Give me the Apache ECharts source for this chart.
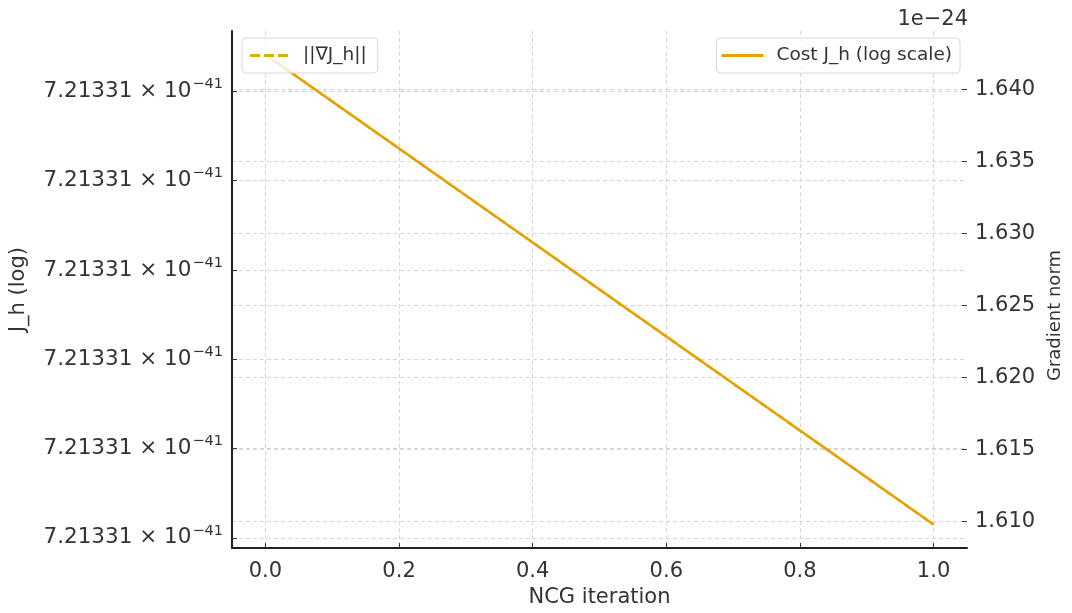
<!DOCTYPE html>
<html><head><meta charset="utf-8">
<script src="https://cdn.jsdelivr.net/npm/echarts@6/dist/echarts.min.js"></script>
<style>html,body{margin:0;padding:0;background:#fff}#c{width:1072px;height:613px}</style>
</head><body><div id="c"></div>
<script>
// ---- data ----
const iterations = [0, 1];
const costJh = [7.2133105413, 7.2133100149];      // cost J_h, in units of 1e-41
const gradNorm = [1.6424, 1.6098];                // ||grad J_h||, in units of 1e-24
const xTicks = [0, 0.2, 0.4, 0.6, 0.8, 1.0];
const costTicks = [7.2133100, 7.2133101, 7.2133102, 7.2133103, 7.2133104, 7.2133105];
const gradTicks = [1.610, 1.615, 1.620, 1.625, 1.630, 1.635, 1.640];
const costExponent = '−41';
const gradOffsetText = '1e−24';
const gradName = '||∇J_h||';
const costName = 'Cost J_h (log scale)';

function padded(arr, f) {
  const lo = Math.min(...arr), hi = Math.max(...arr), r = hi - lo;
  return [lo - f * r, hi + f * r];
}
const xr = padded(iterations, 0.05);
const cr = padded(costJh, 0.05);
const gr = padded(gradNorm, 0.05);

const FONT = 'DejaVu Sans';
const TXT = '#333';
const GRAD_COLOR = '#DDB000';
const COST_COLOR = '#E6A100';
const gridLine = { show: true, lineStyle: { color: '#d6d6d6', type: [4, 3], width: 1 } };
const dashIcon = 'path://M0,0h10v3h-10z M14,0h10v3h-10z M28,0h10v3h-10z';
const solidIcon = 'path://M0,0h42v3h-42z';

const chart = echarts.init(document.getElementById('c'), null, { renderer: 'canvas' });
chart.setOption({
  animation: false,
  backgroundColor: '#fff',
  grid: { left: 232, right: 102, top: 31, bottom: 58, containLabel: false },
  xAxis: {
    type: 'value', min: xr[0], max: xr[1],
    name: 'NCG iteration', nameLocation: 'middle', nameGap: 38,
    nameTextStyle: { fontFamily: FONT, fontSize: 21, color: TXT },
    axisLine: { show: true, onZero: false, lineStyle: { color: '#222', width: 2 } },
    axisTick: { show: true, inside: true, length: 5, customValues: xTicks, lineStyle: { color: '#333', width: 1 } },
    axisLabel: { customValues: xTicks, margin: 13, fontFamily: FONT, fontSize: 21, color: TXT,
      formatter: v => v.toFixed(1) },
    splitLine: gridLine
  },
  yAxis: [{
    type: 'value', min: cr[0], max: cr[1], position: 'left',
    name: 'J_h (log)', nameLocation: 'middle', nameGap: 203, nameRotate: 90,
    nameTextStyle: { fontFamily: FONT, fontSize: 21, color: TXT },
    axisLine: { show: true, onZero: false, lineStyle: { color: '#222', width: 2 } },
    axisTick: { show: true, inside: true, length: 5, customValues: costTicks, lineStyle: { color: '#333', width: 1 } },
    axisLabel: { customValues: costTicks, margin: 9, fontFamily: FONT, color: TXT,
      formatter: v => '{b|' + v.toPrecision(6) + ' × 10}{s|' + costExponent + '}',
      rich: {
        b: { fontFamily: FONT, fontSize: 21.5, color: TXT },
        s: { fontFamily: FONT, fontSize: 14.5, color: TXT, padding: [0, 0, 14, 1] }
      } },
    splitLine: gridLine
  }, {
    type: 'value', min: gr[0], max: gr[1], position: 'right',
    name: 'Gradient norm', nameLocation: 'middle', nameGap: 78, nameRotate: 90,
    nameTextStyle: { fontFamily: FONT, fontSize: 18, color: TXT, padding: [0, 52, 0, 0] },
    axisLine: { show: false, onZero: false },
    axisTick: { show: true, inside: true, length: 5, customValues: gradTicks, lineStyle: { color: '#333', width: 1 } },
    axisLabel: { customValues: gradTicks, margin: 8, fontFamily: FONT, fontSize: 21, color: TXT,
      formatter: v => v.toFixed(3) },
    splitLine: gridLine
  }],
  legend: [{
    data: [{ name: gradName, icon: dashIcon }], left: 242, top: 38, orient: 'horizontal',
    padding: [8, 11, 8, 8], itemWidth: 38, itemHeight: 3,
    backgroundColor: 'rgba(255,255,255,0.8)', borderColor: '#d8d8d8', borderWidth: 1, borderRadius: 4,
    itemStyle: { color: GRAD_COLOR },
    textStyle: { fontFamily: FONT, fontSize: 18.5, color: TXT, padding: [0, 0, 0, 10], lineHeight: 19 }
  }, {
    data: [{ name: costName, icon: solidIcon }], right: 112, top: 38, orient: 'horizontal',
    padding: [8, 8, 8, 5], itemWidth: 42, itemHeight: 3,
    backgroundColor: 'rgba(255,255,255,0.8)', borderColor: '#d8d8d8', borderWidth: 1, borderRadius: 4,
    itemStyle: { color: COST_COLOR },
    textStyle: { fontFamily: FONT, fontSize: 18.5, color: TXT, padding: [0, 0, 0, 8], lineHeight: 19 }
  }],
  graphic: [{
    type: 'text', right: 104, top: 9,
    style: { text: gradOffsetText, fontFamily: FONT, fontSize: 21, fill: TXT }
  }],
  series: [{
    name: gradName, type: 'line', yAxisIndex: 1, symbol: 'none', z: 2,
    data: iterations.map((x, i) => [x, gradNorm[i]]),
    itemStyle: { color: GRAD_COLOR },
    lineStyle: { color: GRAD_COLOR, width: 2.5, type: [7, 4] }
  }, {
    name: costName, type: 'line', yAxisIndex: 0, symbol: 'none', z: 3,
    data: iterations.map((x, i) => [x, costJh[i]]),
    itemStyle: { color: COST_COLOR },
    lineStyle: { color: COST_COLOR, width: 2.5 }
  }]
});
</script></body></html>
